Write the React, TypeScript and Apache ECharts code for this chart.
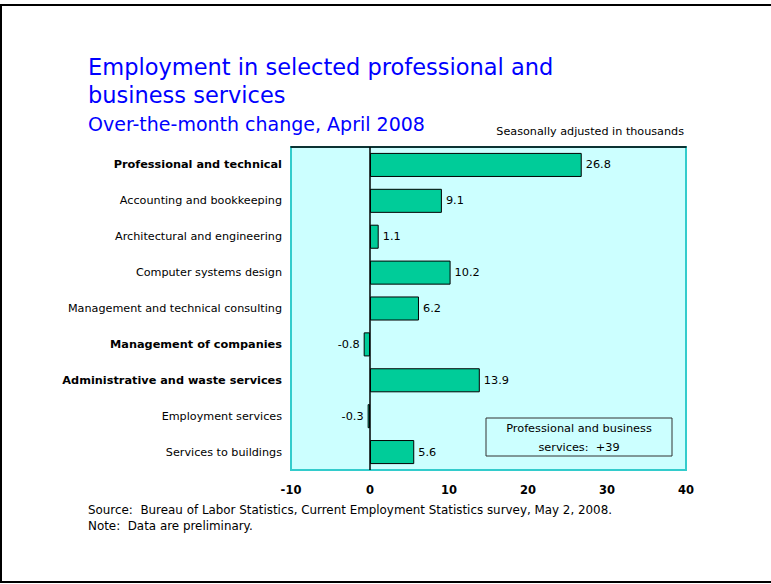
import React, { useEffect, useRef } from "react";
import * as echarts from "echarts";

const categories = [
  "Professional and technical",
  "Accounting and bookkeeping",
  "Architectural and engineering",
  "Computer systems design",
  "Management and technical consulting",
  "Management of companies",
  "Administrative and waste services",
  "Employment services",
  "Services to buildings",
];
const values = [26.8, 9.1, 1.1, 10.2, 6.2, -0.8, 13.9, -0.3, 5.6];
const boldCategories = [
  "Professional and technical",
  "Management of companies",
  "Administrative and waste services",
];
const xMin = -10;
const xMax = 40;
const xInterval = 10;

const titleLines = ["Employment in selected professional and", "business services"];
const subtitle = "Over-the-month change, April 2008";
const unitNote = "Seasonally adjusted in thousands";
const boxLines = ["Professional and business", "services:  +39"];
const footerLines = [
  "Source:  Bureau of Labor Statistics, Current Employment Statistics survey, May 2, 2008.",
  "Note:  Data are preliminary.",
];

const FONT = "'DejaVu Sans', Verdana, sans-serif";

export default function App() {
  const ref = useRef<HTMLDivElement>(null);
  useEffect(() => {
    if (!ref.current) return;
    const chart = echarts.init(ref.current, null, { renderer: "svg" });
    const option: any = {
      animation: false,
      backgroundColor: "#ffffff",
      grid: {
        left: 291,
        right: 85,
        top: 147,
        height: 323,
        show: true,
        backgroundColor: "#CCFFFF",
        borderColor: "#33CCCC",
        borderWidth: 2,
      },
      xAxis: [
        {
          type: "value",
          min: xMin,
          max: xMax,
          interval: xInterval,
          position: "bottom",
          axisLine: { show: false },
          axisTick: { show: false },
          splitLine: { show: false },
          axisLabel: {
            fontFamily: FONT,
            fontWeight: "bold",
            fontSize: 11.5,
            color: "#000",
            margin: 14,
          },
        },
        {
          type: "value",
          min: xMin,
          max: xMax,
          interval: xInterval,
          position: "top",
          axisLine: { show: true, lineStyle: { color: "#000", width: 1.5 } },
          axisTick: { show: false },
          splitLine: { show: false },
          axisLabel: { show: false },
        },
      ],
      yAxis: {
        type: "category",
        data: categories,
        inverse: true,
        axisLine: { show: false },
        axisTick: { show: false },
        splitLine: { show: false },
        axisLabel: {
          margin: 9,
          formatter: (v: string) =>
            boldCategories.includes(v) ? `{b|${v}}` : `{n|${v}}`,
          rich: {
            n: { fontFamily: FONT, fontSize: 11.2, color: "#000" },
            b: { fontFamily: FONT, fontSize: 11.3, fontWeight: "bold", color: "#000" },
          },
        },
      },
      series: [
        {
          type: "bar",
          xAxisIndex: 0,
          barWidth: "67%",
          data: values.map((v) => ({
            value: v,
            label: { position: v < 0 ? "left" : "right" },
          })),
          itemStyle: { color: "#00CC99", borderColor: "#000", borderWidth: 1 },
          label: {
            show: true,
            distance: 4,
            fontFamily: FONT,
            fontSize: 11.3,
            color: "#000",
            formatter: (p: any) => p.value.toFixed(1),
          },
          markLine: {
            silent: true,
            symbol: "none",
            label: { show: false },
            lineStyle: { color: "#000", width: 1.5, type: "solid" },
            data: [{ xAxis: 0 }],
          },
        },
      ],
      graphic: [
        {
          type: "rect",
          shape: { x: 1, y: 5, width: 775, height: 577 },
          style: { fill: "none", stroke: "#000", lineWidth: 2 },
          silent: true,
        },
        {
          type: "text",
          x: 88,
          y: 67,
          style: {
            text: titleLines[0],
            font: `22.5px ${FONT}`,
            fill: "#0000FF",
            textVerticalAlign: "middle",
          },
        },
        {
          type: "text",
          x: 88,
          y: 95,
          style: {
            text: titleLines[1],
            font: `22.5px ${FONT}`,
            fill: "#0000FF",
            textVerticalAlign: "middle",
          },
        },
        {
          type: "text",
          x: 88,
          y: 124,
          style: {
            text: subtitle,
            font: `19px ${FONT}`,
            fill: "#0000FF",
            textVerticalAlign: "middle",
          },
        },
        {
          type: "text",
          x: 684,
          y: 131,
          style: {
            text: unitNote,
            font: `11.2px ${FONT}`,
            fill: "#000",
            textAlign: "right",
            textVerticalAlign: "middle",
          },
        },
        {
          type: "rect",
          shape: { x: 486, y: 418, width: 186, height: 38 },
          style: { fill: "none", stroke: "#333", lineWidth: 1 },
        },
        {
          type: "text",
          x: 579,
          y: 428,
          style: {
            text: boxLines[0],
            font: `11.3px ${FONT}`,
            fill: "#000",
            textAlign: "center",
            textVerticalAlign: "middle",
          },
        },
        {
          type: "text",
          x: 579,
          y: 447,
          style: {
            text: boxLines[1],
            font: `11.3px ${FONT}`,
            fill: "#000",
            textAlign: "center",
            textVerticalAlign: "middle",
          },
        },
        {
          type: "text",
          x: 88,
          y: 510,
          style: {
            text: footerLines[0],
            font: `11.9px ${FONT}`,
            fill: "#000",
            textVerticalAlign: "middle",
          },
        },
        {
          type: "text",
          x: 88,
          y: 526,
          style: {
            text: footerLines[1],
            font: `11.9px ${FONT}`,
            fill: "#000",
            textVerticalAlign: "middle",
          },
        },
      ],
    };
    chart.setOption(option);
    return () => chart.dispose();
  }, []);
  return (
    <div
      ref={ref}
      style={{ position: "fixed", left: 0, top: 0, width: 771, height: 584, background: "#fff" }}
    />
  );
}
